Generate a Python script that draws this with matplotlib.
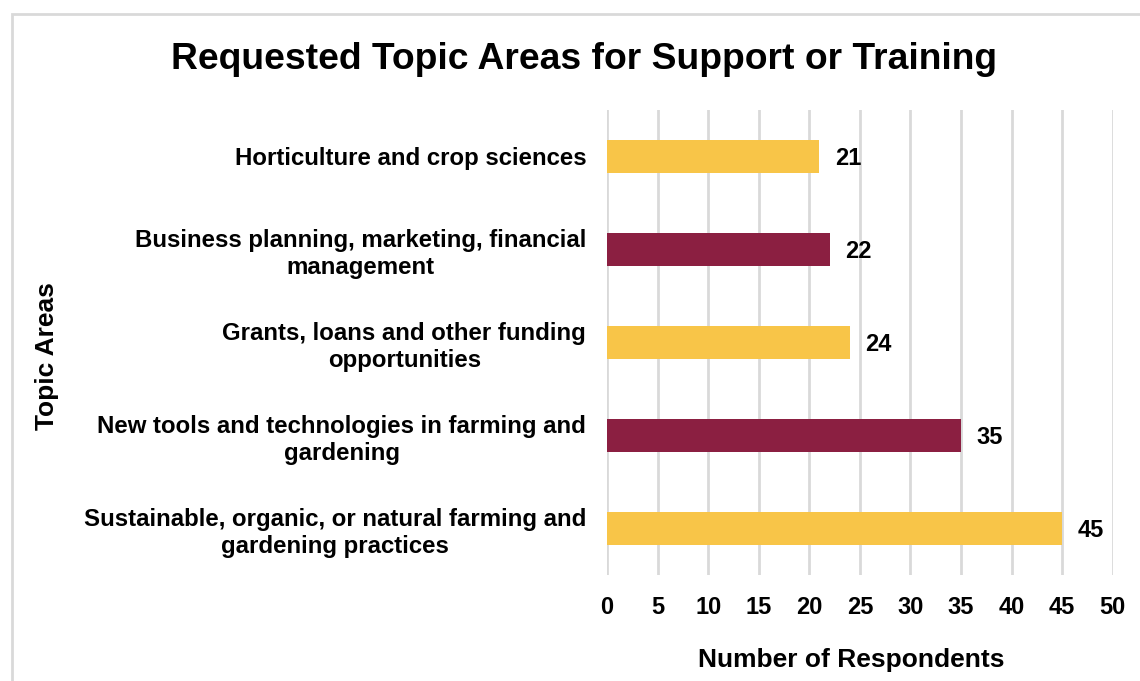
import matplotlib
matplotlib.use("Agg")
import matplotlib.pyplot as plt
from matplotlib.patches import Rectangle

plt.rcParams['font.family'] = ['Liberation Sans', 'DejaVu Sans']

# Topic areas, listed bottom-to-top as drawn
topics = [
    "Sustainable, organic, or natural farming and\ngardening practices",
    "New tools and technologies in farming and\ngardening",
    "Grants, loans and other funding\nopportunities",
    "Business planning, marketing, financial\nmanagement",
    "Horticulture and crop sciences",
]
respondents = [45, 35, 24, 22, 21]
xticks = [0, 5, 10, 15, 20, 25, 30, 35, 40, 45, 50]

GOLD = "#F8C548"
MAROON = "#8B1F41"
bar_colors = [GOLD, MAROON, GOLD, MAROON, GOLD]

fig = plt.figure(figsize=(11.4, 6.81), dpi=100)
ax = fig.add_axes([0.5325, 0.1557, 0.4435, 0.6828])

ypos = list(range(len(topics)))
ax.barh(ypos, respondents, height=0.36, color=bar_colors, zorder=3)

for y, v in zip(ypos, respondents):
    ax.annotate(str(v), xy=(v, y), xytext=(11, 0), textcoords="offset points",
                ha="left", va="center_baseline", fontsize=17, fontweight="bold",
                color="black")

ax.set_xlim(0, 50)
ax.set_ylim(-0.5, len(topics) - 0.5)
ax.set_xticks(xticks)
ax.set_xticklabels([str(t) for t in xticks], fontsize=17, fontweight="bold")
ax.set_yticks(ypos)
ax.set_yticklabels(topics, fontsize=17.3, fontweight="bold", ha="right",
                   multialignment="center", linespacing=1.25)
ax.tick_params(axis="y", length=0, pad=15)
ax.tick_params(axis="x", length=0, pad=15)

ax.grid(axis="x", color="#D9D9D9", linewidth=2, zorder=0)
ax.grid(axis="y", visible=False)
for s in ax.spines.values():
    s.set_visible(False)

fig.text(0.512, 0.913, "Requested Topic Areas for Support or Training",
         ha="center", va="center", fontsize=26.8, fontweight="bold")
ax.set_xlabel("Number of Respondents", fontsize=19, fontweight="bold")
ax.xaxis.set_label_coords(0.483, -0.157)
fig.text(0.041, 0.477, "Topic Areas", rotation=90, ha="center", va="center",
         fontsize=19, fontweight="bold")

# Light chart-area border
fig.patches.append(Rectangle((12 / 1140, -0.05), 1.2, 1 - 14 / 681 + 0.05,
                             transform=fig.transFigure, fill=False,
                             edgecolor="#D9D9D9", linewidth=2))

fig.savefig("out.png", dpi=100, facecolor="white")
